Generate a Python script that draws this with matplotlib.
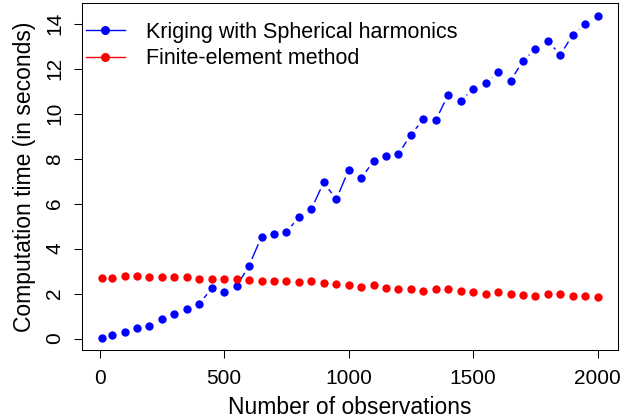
import matplotlib.pyplot as plt

plt.rcParams['font.family'] = ['Liberation Sans', 'DejaVu Sans']

n_obs = [10] + list(range(50, 2001, 50))

kriging = [0.04, 0.16, 0.27, 0.46, 0.55, 0.89, 1.11, 1.32, 1.53, 2.24,
           2.09, 2.33, 3.24, 4.53, 4.63, 4.75, 5.39, 5.76, 6.95, 6.19,
           7.50, 7.12, 7.90, 8.13, 8.22, 9.07, 9.75, 9.72, 10.85, 10.58,
           11.10, 11.35, 11.84, 11.47, 12.35, 12.89, 13.22, 12.63, 13.51,
           13.98, 14.34]

fem = [2.69, 2.70, 2.76, 2.76, 2.75, 2.75, 2.75, 2.72, 2.64, 2.66,
       2.67, 2.66, 2.61, 2.57, 2.58, 2.56, 2.52, 2.56, 2.48, 2.44,
       2.38, 2.29, 2.38, 2.24, 2.20, 2.21, 2.12, 2.20, 2.20, 2.11,
       2.05, 2.00, 2.08, 2.00, 1.95, 1.89, 1.96, 1.98, 1.90, 1.90,
       1.84]

labels = ['Kriging with Spherical harmonics', 'Finite-element method']

fig = plt.figure(figsize=(6.25, 4.2), dpi=100)
ax = fig.add_axes([0.1317, 0.1655, 0.8563, 0.8265])

# R-style type="b": line broken around each point (white halo under markers)
ax.plot(n_obs, fem, color='red', lw=1, zorder=1)
ax.plot(n_obs, fem, ls='none', marker='o', ms=11.5, mfc='white', mec='none', zorder=2)
ax.plot(n_obs, kriging, color='blue', lw=1, zorder=3)
ax.plot(n_obs, kriging, ls='none', marker='o', ms=11.5, mfc='white', mec='none', zorder=4)
ax.plot(n_obs, kriging, ls='none', marker='o', ms=6, color='blue', mec='none', zorder=5)
ax.plot(n_obs, fem, ls='none', marker='o', ms=6, color='red', mec='none', zorder=6)

# legend proxies
h1, = ax.plot([], [], color='blue', lw=1, marker='o', ms=6.5, mec='none')
h2, = ax.plot([], [], color='red', lw=1, marker='o', ms=6.5, mec='none')
ax.legend([h1, h2], labels, loc='upper left', bbox_to_anchor=(0.006, 0.947),
          frameon=False, fontsize=15.5, borderpad=0, borderaxespad=0,
          handlelength=1.85, handletextpad=0.95, labelspacing=0.25)

ax.set_xlim(10 - 0.04 * 1990, 2000 + 0.04 * 1990)
ax.set_ylim(0.04 - 0.04 * 14.3, 14.34 + 0.04 * 14.3)
ax.set_xticks([0, 500, 1000, 1500, 2000])
ax.set_yticks(range(0, 15, 2))

ax.tick_params(direction='out', length=5.5, width=0.75, labelsize=15, pad=6.5)
ax.tick_params(axis='x', pad=7.5)
ax.tick_params(axis='y', labelrotation=90, pad=7.5)
for t in ax.get_yticklabels():
    t.set_va('center')
for s in ax.spines.values():
    s.set_linewidth(0.75)

ax.set_xlabel('Number of observations', fontsize=16.5, labelpad=6)
ax.set_ylabel('Computation time (in seconds)', fontsize=16.5, labelpad=7)

fig.savefig('out.png', dpi=100)
